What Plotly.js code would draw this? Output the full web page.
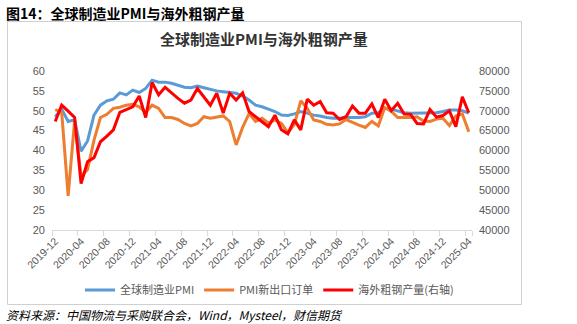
<!DOCTYPE html>
<html>
<head>
<meta charset="utf-8">
<script src="https://cdn.plot.ly/plotly-3.0.1.min.js"></script>
<style>
  html, body { margin: 0; padding: 0; background: #ffffff; }
  #chart { width: 577px; height: 324px; }
</style>
</head>
<body>
<div id="chart"></div>
<script>
// ---- data ----
const months = [
  "2019-12","2020-01","2020-02","2020-03","2020-04","2020-05","2020-06","2020-07","2020-08","2020-09","2020-10","2020-11",
  "2020-12","2021-01","2021-02","2021-03","2021-04","2021-05","2021-06","2021-07","2021-08","2021-09","2021-10","2021-11",
  "2021-12","2022-01","2022-02","2022-03","2022-04","2022-05","2022-06","2022-07","2022-08","2022-09","2022-10","2022-11",
  "2022-12","2023-01","2023-02","2023-03","2023-04","2023-05","2023-06","2023-07","2023-08","2023-09","2023-10","2023-11",
  "2023-12","2024-01","2024-02","2024-03","2024-04","2024-05","2024-06","2024-07","2024-08","2024-09","2024-10","2024-11",
  "2024-12","2025-01","2025-02","2025-03","2025-04"
];
const tickLabels = ["2019-12","2020-04","2020-08","2020-12","2021-04","2021-08","2021-12","2022-04","2022-08","2022-12","2023-04","2023-08","2023-12","2024-04","2024-08","2024-12","2025-04"];

const globalPMI = [
  48.5,50.4,47.3,47.7,39.8,42.4,48.9,51.4,52.5,52.9,54.5,54.0,
  55.2,54.6,55.6,57.7,57.2,57.2,56.9,56.4,55.9,55.8,56.2,55.8,
  55.4,55.0,54.8,54.6,54.4,53.7,52.7,51.4,51.0,50.4,49.8,48.9,
  48.8,49.2,49.8,49.4,48.9,48.7,48.3,48.1,48.1,48.3,48.3,48.3,
  48.5,49.4,49.5,50.6,50.4,50.0,49.5,49.4,49.4,49.4,49.4,49.5,
  49.8,50.2,50.2,50.0,49.4
];
const exportOrders = [
  50.3,49.6,28.6,47.5,33.5,35.2,42.6,48.3,49.1,50.6,50.9,51.4,
  51.6,51.0,49.6,51.4,50.6,48.3,48.3,47.8,46.8,46.2,46.8,48.5,
  48.1,48.4,48.7,47.3,41.4,45.8,49.3,47.3,48.1,46.9,47.7,46.8,
  44.5,46.5,52.5,50.6,47.7,47.3,46.6,46.4,46.7,47.8,47.0,46.4,
  45.8,47.3,46.2,50.8,49.9,48.3,48.3,48.3,48.5,47.4,47.3,47.9,
  48.1,46.3,48.7,49.2,44.7
];
const overseasSteel = [
  67300,71400,69900,68300,51700,57200,58200,62200,63600,65200,69600,70200,
  71000,73700,68300,77100,74000,75900,74400,73100,71900,72700,75600,73500,
  71400,74400,69400,74400,72700,74500,69800,68500,67300,66000,68900,65200,
  64200,67700,65200,72900,71400,72300,69500,69400,67800,68500,71200,69400,
  69400,71700,68300,72900,70000,71900,69200,69100,66800,66700,70300,68400,
  68800,70000,66000,73500,69500
];
const seriesNames = ["全球制造业PMI","PMI新出口订单","海外粗钢产量(右轴)"];

// ---- layout helpers (pixel -> paper fraction) ----
const W = 577, H = 324;
const M = {l: 52, r: 105, t: 71, b: 94};
const PW = W - M.l - M.r, PH = H - M.t - M.b;
const xp = px => (px - M.l) / PW;
const yp = py => (H - M.b - py) / PH;

const axisFont = {family: "Liberation Sans, Arial, sans-serif", size: 11, color: "#595959"};
const cjk = "Noto Sans CJK SC, sans-serif";
const frameColor = "#d0d0d0";

const traces = [
  {x: months, y: globalPMI, name: seriesNames[0], type: "scatter", mode: "lines",
   line: {color: "#5B9BD5", width: 3}, yaxis: "y"},
  {x: months, y: exportOrders, name: seriesNames[1], type: "scatter", mode: "lines",
   line: {color: "#ED7D31", width: 3}, yaxis: "y"},
  {x: months, y: overseasSteel, name: seriesNames[2], type: "scatter", mode: "lines",
   line: {color: "#FF0000", width: 3}, yaxis: "y2"}
];

const layout = {
  width: W, height: H,
  margin: M,
  paper_bgcolor: "#ffffff", plot_bgcolor: "#ffffff",
  showlegend: true,
  title: {
    text: "全球制造业PMI与海外粗钢产量",
    font: {family: cjk, size: 15, color: "#333333", weight: "bold"},
    xref: "container", yref: "container",
    x: 264 / W, y: 1 - 40 / H, xanchor: "center", yanchor: "middle"
  },
  xaxis: {
    type: "category",
    range: [-0.5, months.length - 0.5],
    tickmode: "array",
    tickvals: tickLabels,
    ticktext: tickLabels,
    tickson: "boundaries",
    ticks: "outside", ticklen: 5, tickcolor: "#d9d9d9", tickwidth: 1,
    showline: true, linecolor: "#d9d9d9", linewidth: 1,
    showgrid: false, zeroline: false,
    tickangle: -45,
    tickfont: {family: "Liberation Sans, Arial, sans-serif", size: 10.5, color: "#595959"},
    fixedrange: true
  },
  yaxis: {
    range: [20, 60], dtick: 5, tick0: 20,
    showgrid: false, zeroline: false, showline: false,
    ticks: "", ticklabelstandoff: 6,
    tickfont: axisFont, fixedrange: true
  },
  yaxis2: {
    range: [40000, 80000], dtick: 5000, tick0: 40000,
    tickformat: "d",
    overlaying: "y", side: "right",
    showgrid: false, zeroline: false, showline: false,
    ticks: "", ticklabelstandoff: 6,
    tickfont: axisFont, fixedrange: true
  },
  legend: {
    orientation: "h",
    x: xp(269.5), xanchor: "center",
    y: yp(290), yanchor: "middle",
    font: {family: cjk, size: 11, color: "#595959"},
    bgcolor: "rgba(0,0,0,0)",
    itemwidth: 30,
    traceorder: "normal"
  },
  shapes: [
    {type: "rect", xref: "paper", yref: "paper",
     x0: xp(7.5), x1: xp(521.5), y0: yp(304.5), y1: yp(21.5),
     line: {color: frameColor, width: 1}, fillcolor: "rgba(0,0,0,0)", layer: "above"}
  ],
  annotations: [
    {text: "图14：全球制造业PMI与海外粗钢产量", xref: "paper", yref: "paper",
     x: xp(4), y: yp(13), xanchor: "left", yanchor: "middle", showarrow: false,
     font: {family: cjk, size: 14, color: "#000000", weight: "bold"}},
    {text: "<i>资料来源：中国物流与采购联合会，Wind，Mysteel，财信期货</i>", xref: "paper", yref: "paper",
     x: xp(4), y: yp(314.5), xanchor: "left", yanchor: "middle", showarrow: false,
     font: {family: cjk, size: 12, color: "#000000"}}
  ]
};

Plotly.newPlot("chart", traces, layout, {displayModeBar: false});
</script>
</body>
</html>
